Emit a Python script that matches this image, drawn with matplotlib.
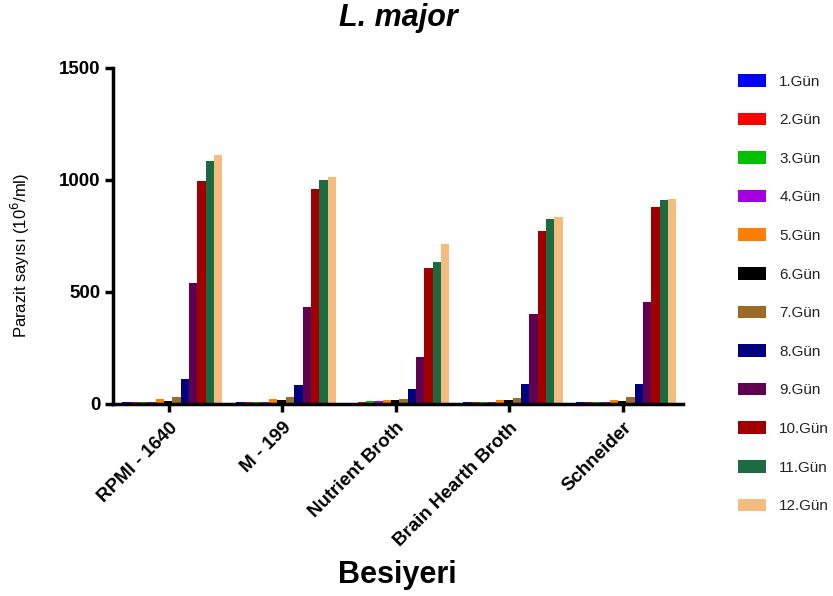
import matplotlib
matplotlib.use("Agg")
import matplotlib.pyplot as plt
import numpy as np

plt.rcParams['font.family'] = ['Liberation Sans', 'DejaVu Sans']

categories = ["RPMI - 1640", "M - 199", "Nutrient Broth", "Brain Hearth Broth", "Schneider"]
days = ["1.Gün", "2.Gün", "3.Gün", "4.Gün", "5.Gün", "6.Gün",
        "7.Gün", "8.Gün", "9.Gün", "10.Gün", "11.Gün", "12.Gün"]
colors = ["#0000FF", "#FF0000", "#00C000", "#A000E0", "#FF8000", "#000000",
          "#9B6B2A", "#000080", "#600050", "#A00000", "#1A6B40", "#F5BC80"]

# values per day (rows) for each medium (columns)
day1 = [8, 8, 6, 8, 8]
day2 = [10, 10, 8, 10, 10]
day3 = [10, 10, 12, 10, 10]
day4 = [10, 10, 12, 10, 10]
day5 = [21, 21, 18, 18, 19]
day6 = [15, 18, 16, 18, 15]
day7 = [30, 30, 24, 25, 30]
day8 = [110, 85, 68, 88, 88]
day9 = [539, 432, 211, 402, 454]
day10 = [997, 961, 606, 774, 881]
day11 = [1086, 1000, 634, 824, 909]
day12 = [1111, 1012, 713, 836, 915]
series = [day1, day2, day3, day4, day5, day6, day7, day8, day9, day10, day11, day12]

fig = plt.figure(figsize=(8.33, 5.96), dpi=100)
ax = fig.add_axes([113/833, 1-404/596, (683-113)/833, (404-68)/596])

x = np.arange(len(categories))
n = len(series)
bw = 0.0735
offset0 = -bw * (n - 1) / 2 + 0.03
for i, (vals, c, lab) in enumerate(zip(series, colors, days)):
    ax.bar(x + offset0 + i * bw, vals, width=bw, color=c, label=lab, linewidth=0)

ax.set_ylim(0, 1500)
ax.set_xlim(-0.493, 4.53)
ax.set_yticks([0, 500, 1000, 1500])
ax.set_xticks(x)
ax.set_xticklabels(categories, rotation=45, ha='right', rotation_mode='anchor',
                   fontsize=13.5, fontweight='bold')
for lbl in ax.get_yticklabels():
    lbl.set_fontsize(13.5)
    lbl.set_fontweight('bold')

for s in ['top', 'right']:
    ax.spines[s].set_visible(False)
for s in ['left', 'bottom']:
    ax.spines[s].set_linewidth(2.5)
ax.tick_params(axis='both', width=2.5, length=6, direction='out')
ax.tick_params(axis='x', pad=5)
ax.tick_params(axis='y', pad=3)

fig.text(20/833, 1-255/596, "Parazit sayısı (10$^6$/ml)", fontsize=12,
         rotation=90, ha='center', va='center')
fig.text(397/833, 1-575/596, "Besiyeri", fontsize=22, fontweight='bold',
         ha='center', va='center')
fig.text(398/833, 1-18/596, "L. major", fontsize=22, fontweight='bold',
         fontstyle='italic', ha='center', va='center')

fig.legend(loc='upper left', bbox_to_anchor=(738/833, 1-74/596), frameon=False,
           fontsize=11, handlelength=1.85, handleheight=0.9, handletextpad=0.85,
           labelspacing=1.57, borderpad=0, borderaxespad=0, labelcolor='#222222')

fig.savefig("out.png", dpi=100)
